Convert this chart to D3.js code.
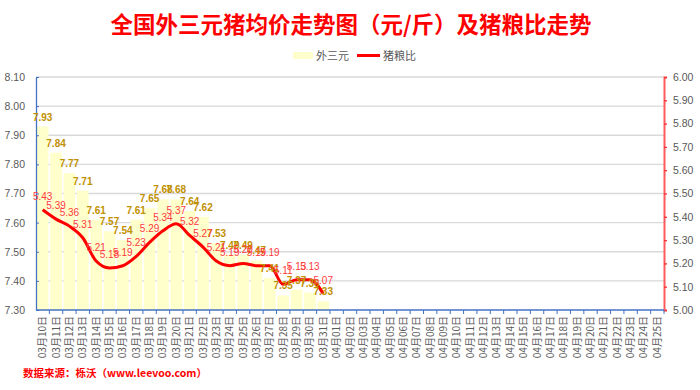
<!DOCTYPE html>
<html>
<head>
<meta charset="utf-8">
<script src="https://cdn.jsdelivr.net/npm/d3@7"></script>
<style>
  html, body { margin: 0; padding: 0; background: #fff; }
  svg { display: block; }
</style>
</head>
<body>
<svg id="chart" width="700" height="390"></svg>
<script>
const titleText = "全国外三元猪均价走势图（元/斤）及猪粮比走势";
const sourceText = "数据来源：栎沃（www.leevoo.com）";
const seriesNames = ["外三元", "猪粮比"];

const categories = [
  "03月10日","03月11日","03月12日","03月13日","03月14日","03月15日","03月16日","03月17日",
  "03月18日","03月19日","03月20日","03月21日","03月22日","03月23日","03月24日","03月25日",
  "03月26日","03月27日","03月28日","03月29日","03月30日","03月31日",
  "04月01日","04月02日","04月03日","04月04日","04月05日","04月06日","04月07日","04月08日",
  "04月09日","04月10日","04月11日","04月12日","04月13日","04月14日","04月15日","04月16日",
  "04月17日","04月18日","04月19日","04月20日","04月21日","04月22日","04月23日","04月24日","04月25日"
];

const priceValues = [7.93, 7.84, 7.77, 7.71, 7.61, 7.57, 7.54, 7.61, 7.65, 7.68, 7.68,
                     7.64, 7.62, 7.53, 7.49, 7.49, 7.47, 7.41, 7.35, 7.37, 7.36, 7.33];
const ratioValues = [5.43, 5.39, 5.36, 5.31, 5.21, 5.18, 5.19, 5.23, 5.29, 5.34, 5.37,
                     5.32, 5.27, 5.21, 5.19, 5.20, 5.19, 5.19, 5.11, 5.13, 5.13, 5.07];

const leftTicks = [7.30, 7.40, 7.50, 7.60, 7.70, 7.80, 7.90, 8.00, 8.10];
const rightTicks = [5.00, 5.10, 5.20, 5.30, 5.40, 5.50, 5.60, 5.70, 5.80, 5.90, 6.00];

const svg = d3.select("#chart");
const L = 36, R = 664, T = 77, B = 310;
const numFont = "'Liberation Sans', Arial, 'Noto Sans CJK SC', sans-serif";
const cjkFont = "'Noto Sans CJK SC', 'Liberation Sans', sans-serif";

const x = d3.scaleBand().domain(categories).range([L, R]).paddingInner(0.13).paddingOuter(0.065);
const xb = d3.scaleBand().domain(categories).range([L, R]);
const yL = d3.scaleLinear().domain([7.30, 8.10]).range([B, T]);
const yR = d3.scaleLinear().domain([5.00, 6.00]).range([B, T]);

// Title
svg.append("text").attr("x", 351).attr("y", 33).attr("text-anchor", "middle")
  .style("font-family", cjkFont).style("font-size", "22.5px").style("font-weight", "bold")
  .attr("fill", "#FF0000").text(titleText);

// Legend
const lg = svg.append("g");
lg.append("rect").attr("x", 293).attr("y", 52).attr("width", 20).attr("height", 7).attr("fill", "#FFFFCC");
lg.append("text").attr("x", 316).attr("y", 59.5).style("font-family", cjkFont).style("font-size", "11px")
  .attr("fill", "#595959").text(seriesNames[0]);
lg.append("line").attr("x1", 357).attr("x2", 380).attr("y1", 55.5).attr("y2", 55.5)
  .attr("stroke", "#FF0000").attr("stroke-width", 3);
lg.append("text").attr("x", 383).attr("y", 59.5).style("font-family", cjkFont).style("font-size", "11px")
  .attr("fill", "#595959").text(seriesNames[1]);

// Gridlines
svg.append("g").selectAll("line").data(leftTicks.slice(1)).join("line")
  .attr("x1", L).attr("x2", R).attr("y1", d => yL(d)).attr("y2", d => yL(d))
  .attr("stroke", "#D9D9D9").attr("stroke-width", 1.3);

// Bars
const priceData = priceValues.map((v, i) => ({c: categories[i], v}));
svg.append("g").selectAll("rect").data(priceData).join("rect")
  .attr("x", d => x(d.c)).attr("width", x.bandwidth())
  .attr("y", d => yL(d.v)).attr("height", d => B - yL(d.v))
  .attr("fill", "#FFFFCC");

// Left axis
const axL = d3.axisLeft(yL).tickValues(leftTicks).tickFormat(d3.format(".2f")).tickSize(0).tickPadding(11);
const gL = svg.append("g").attr("transform", `translate(${L},0)`).call(axL);
gL.select(".domain").attr("stroke", "#4472C4").attr("stroke-width", 1.3);
gL.selectAll("text").style("font-family", numFont).style("font-size", "10.5px").attr("fill", "#595959");
gL.selectAll(".tick").append("line").attr("x1", 0).attr("x2", 3).attr("stroke", "#4472C4");

// Right axis
const axR = d3.axisRight(yR).tickValues(rightTicks).tickFormat(d3.format(".2f")).tickSize(3).tickPadding(6);
const gR = svg.append("g").attr("transform", `translate(${R},0)`).call(axR);
gR.select(".domain").attr("stroke", "#FF5B5B").attr("stroke-width", 2);
gR.selectAll(".tick line").attr("stroke", "#FF3030").attr("stroke-width", 1.3);
gR.selectAll("text").style("font-family", numFont).style("font-size", "10.5px").attr("fill", "#595959");

// Bottom axis
svg.append("line").attr("x1", L).attr("x2", R).attr("y1", B).attr("y2", B)
  .attr("stroke", "#4472C4").attr("stroke-width", 1.5);
svg.append("g").selectAll("line").data(categories).join("line")
  .attr("x1", d => xb(d) + xb.bandwidth()).attr("x2", d => xb(d) + xb.bandwidth())
  .attr("y1", B).attr("y2", B + 4).attr("stroke", "#4472C4").attr("stroke-width", 1);
svg.append("g").selectAll("text").data(categories).join("text")
  .attr("transform", d => `translate(${x(d) + x.bandwidth() / 2},316) rotate(-90)`)
  .attr("text-anchor", "end").attr("dy", "0.35em")
  .style("font-family", cjkFont).style("font-size", "10px").attr("fill", "#595959")
  .text(d => d);

// Line
const ratioData = ratioValues.map((v, i) => ({c: categories[i], v}));
const line = d3.line().x(d => x(d.c) + x.bandwidth() / 2).y(d => yR(d.v)).curve(d3.curveMonotoneX);
svg.append("path").datum(ratioData).attr("d", line).attr("fill", "none")
  .attr("stroke", "#FF0000").attr("stroke-width", 3).attr("stroke-linejoin", "round");

// Bar labels
svg.append("g").selectAll("text").data(priceData).join("text")
  .attr("x", d => x(d.c) + x.bandwidth() / 2).attr("y", d => yL(d.v) - 6)
  .attr("text-anchor", "middle").style("font-family", numFont).style("font-size", "10px")
  .style("font-weight", "bold").attr("fill", "#BF9000").text(d => d.v.toFixed(2));

// Line labels
svg.append("g").selectAll("text").data(ratioData).join("text")
  .attr("x", d => x(d.c) + x.bandwidth() / 2).attr("y", d => yR(d.v) - 10)
  .attr("text-anchor", "middle").style("font-family", numFont).style("font-size", "10px")
  .attr("fill", "#FF3B3B").text(d => d.v.toFixed(2));

// Source
svg.append("text").attr("x", 23).attr("y", 377)
  .style("font-family", cjkFont).style("font-size", "10.5px").style("font-weight", "bold")
  .attr("fill", "#FF0000").text(sourceText);
</script>
</body>
</html>
